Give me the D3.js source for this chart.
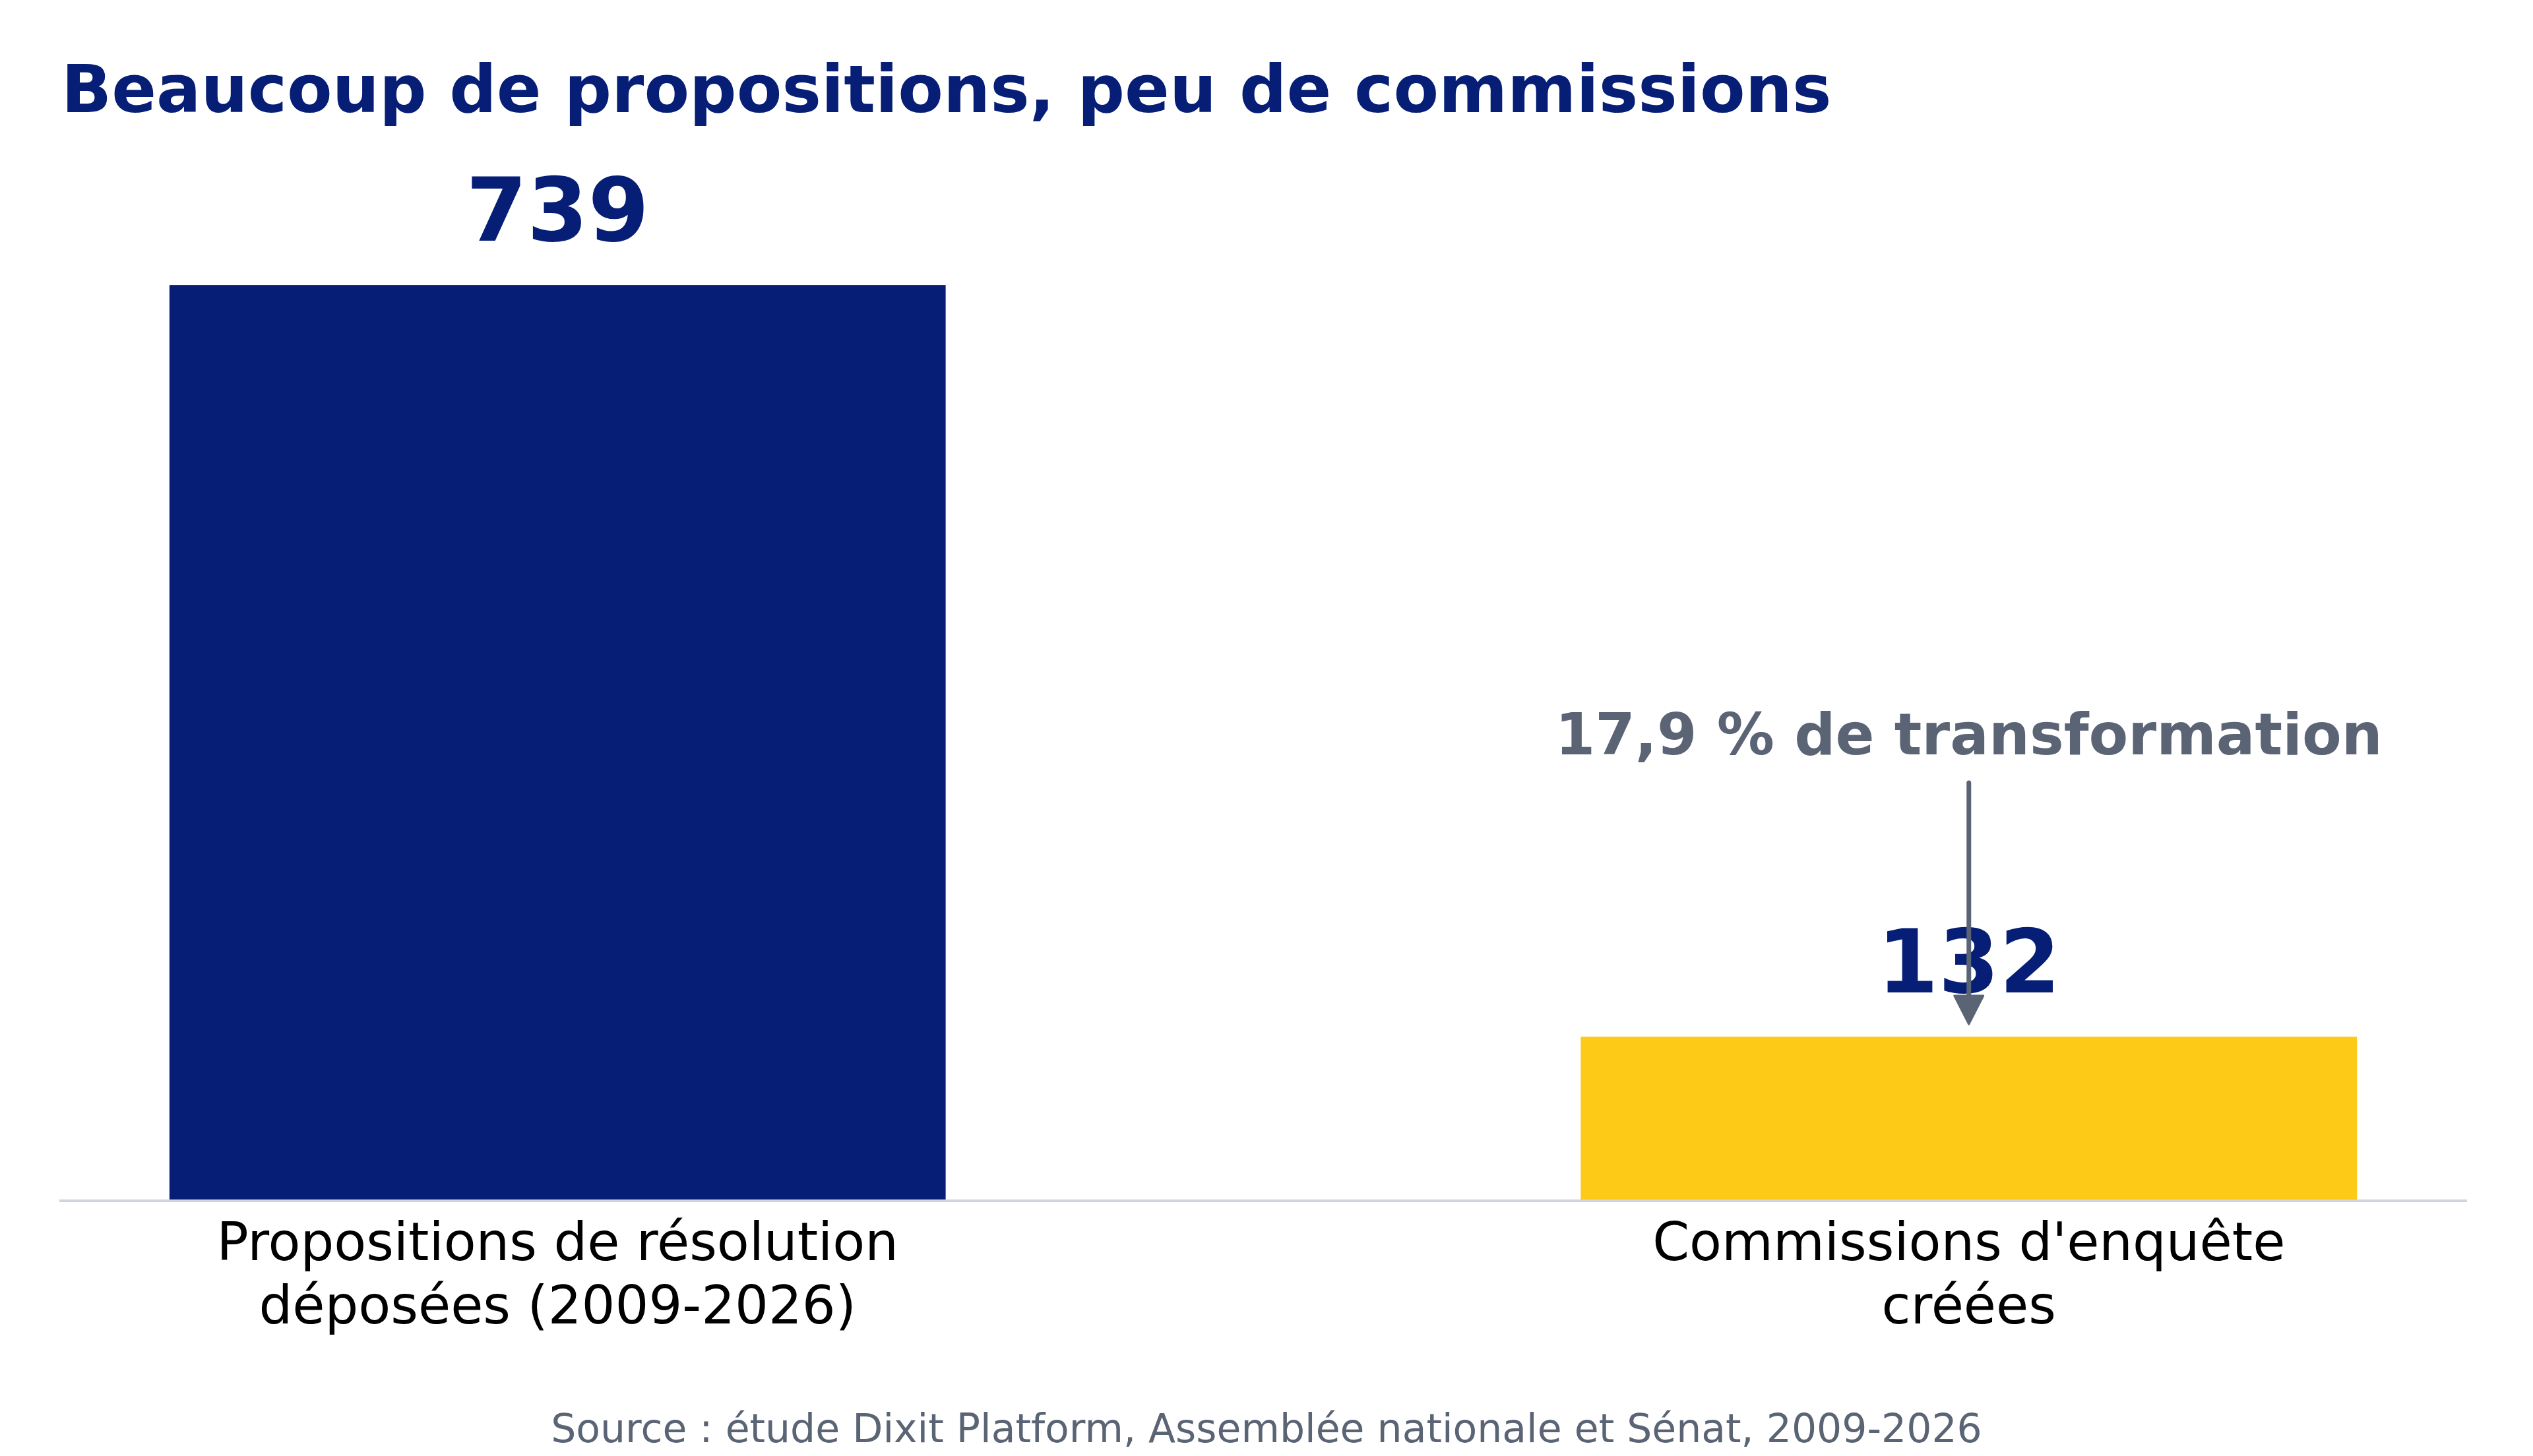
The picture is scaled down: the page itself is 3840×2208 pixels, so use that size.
<!DOCTYPE html>
<html>
<head>
<meta charset="utf-8">
<script src="https://cdn.jsdelivr.net/npm/d3@7"></script>
<style>
html, body { margin: 0; padding: 0; background: #ffffff; }
svg { display: block; }
text { font-family: "DejaVu Sans", sans-serif; }
</style>
</head>
<body>
<script>
// ---- Data ----
const categories = [
  ["Propositions de résolution", "déposées (2009-2026)"],
  ["Commissions d'enquête", "créées"]
];
const categoryKeys = ["propositions", "commissions"];
const values = [739, 132];
const barColors = ["#061e76", "#fdca17"];
const titleText = "Beaucoup de propositions, peu de commissions";
const annotationText = "17,9 % de transformation";
const sourceText = "Source : étude Dixit Platform, Assemblée nationale et Sénat, 2009-2026";

// ---- Layout ----
const W = 3840, H = 2208;
const baseY = 1820;
const navy = "#061e76";
const slate = "#5a6474";

const svg = d3.select("body").append("svg")
  .attr("width", W).attr("height", H);

const x = d3.scaleBand()
  .domain(categoryKeys)
  .range([90, 3740])
  .paddingInner(0.45)
  .paddingOuter(0.078);

const y = d3.scaleLinear()
  .domain([0, 800])
  .range([baseY, baseY - 800 * 1.878]);

// Title
svg.append("text")
  .attr("x", 93).attr("y", 170)
  .attr("font-size", 100).attr("font-weight", "bold")
  .attr("fill", navy)
  .text(titleText);

// Bars
svg.selectAll("rect.bar")
  .data(values)
  .join("rect")
  .attr("class", "bar")
  .attr("x", (d, i) => x(categoryKeys[i]))
  .attr("y", d => y(d))
  .attr("width", x.bandwidth())
  .attr("height", d => y(0) - y(d))
  .attr("fill", (d, i) => barColors[i]);

// Baseline axis line
const xAxis = d3.axisBottom(x).tickSize(0).tickFormat("");
const ax = svg.append("g").attr("transform", `translate(0,${baseY})`).call(xAxis);
ax.select(".domain").remove();
svg.append("line")
  .attr("x1", 90).attr("x2", 3740)
  .attr("y1", baseY + 1).attr("y2", baseY + 1)
  .attr("stroke", "#d0d4e0").attr("stroke-width", 4);

// Value labels
svg.selectAll("text.val")
  .data(values)
  .join("text")
  .attr("class", "val")
  .attr("x", (d, i) => x(categoryKeys[i]) + x.bandwidth() / 2)
  .attr("y", d => y(d) - 67)
  .attr("text-anchor", "middle")
  .attr("font-size", 133).attr("font-weight", "bold")
  .attr("fill", navy)
  .text(d => d);

// Category labels
categories.forEach((lines, i) => {
  const t = svg.append("text")
    .attr("x", x(categoryKeys[i]) + x.bandwidth() / 2)
    .attr("y", 1911)
    .attr("text-anchor", "middle")
    .attr("font-size", 80)
    .attr("fill", "#000000");
  lines.forEach((ln, j) => {
    t.append("tspan")
      .attr("x", x(categoryKeys[i]) + x.bandwidth() / 2)
      .attr("dy", j === 0 ? 0 : 96)
      .text(ln);
  });
});

// Annotation
const cx2 = x(categoryKeys[1]) + x.bandwidth() / 2;
svg.append("text")
  .attr("x", cx2).attr("y", 1144)
  .attr("text-anchor", "middle")
  .attr("font-size", 87).attr("font-weight", "bold")
  .attr("fill", slate)
  .text(annotationText);

const tipY = y(values[1]) - 19;
svg.append("line")
  .attr("x1", cx2).attr("x2", cx2)
  .attr("y1", 1187).attr("y2", tipY - 40)
  .attr("stroke", slate).attr("stroke-width", 7)
  .attr("stroke-linecap", "round");
svg.append("path")
  .attr("d", `M${cx2 - 22},${tipY - 43} L${cx2 + 22},${tipY - 43} L${cx2},${tipY} Z`)
  .attr("fill", slate)
  .attr("stroke", slate).attr("stroke-width", 3).attr("stroke-linejoin", "round");

// Source
svg.append("text")
  .attr("x", W / 2).attr("y", 2187)
  .attr("text-anchor", "middle")
  .attr("font-size", 60)
  .attr("fill", slate)
  .text(sourceText);
</script>
</body>
</html>
